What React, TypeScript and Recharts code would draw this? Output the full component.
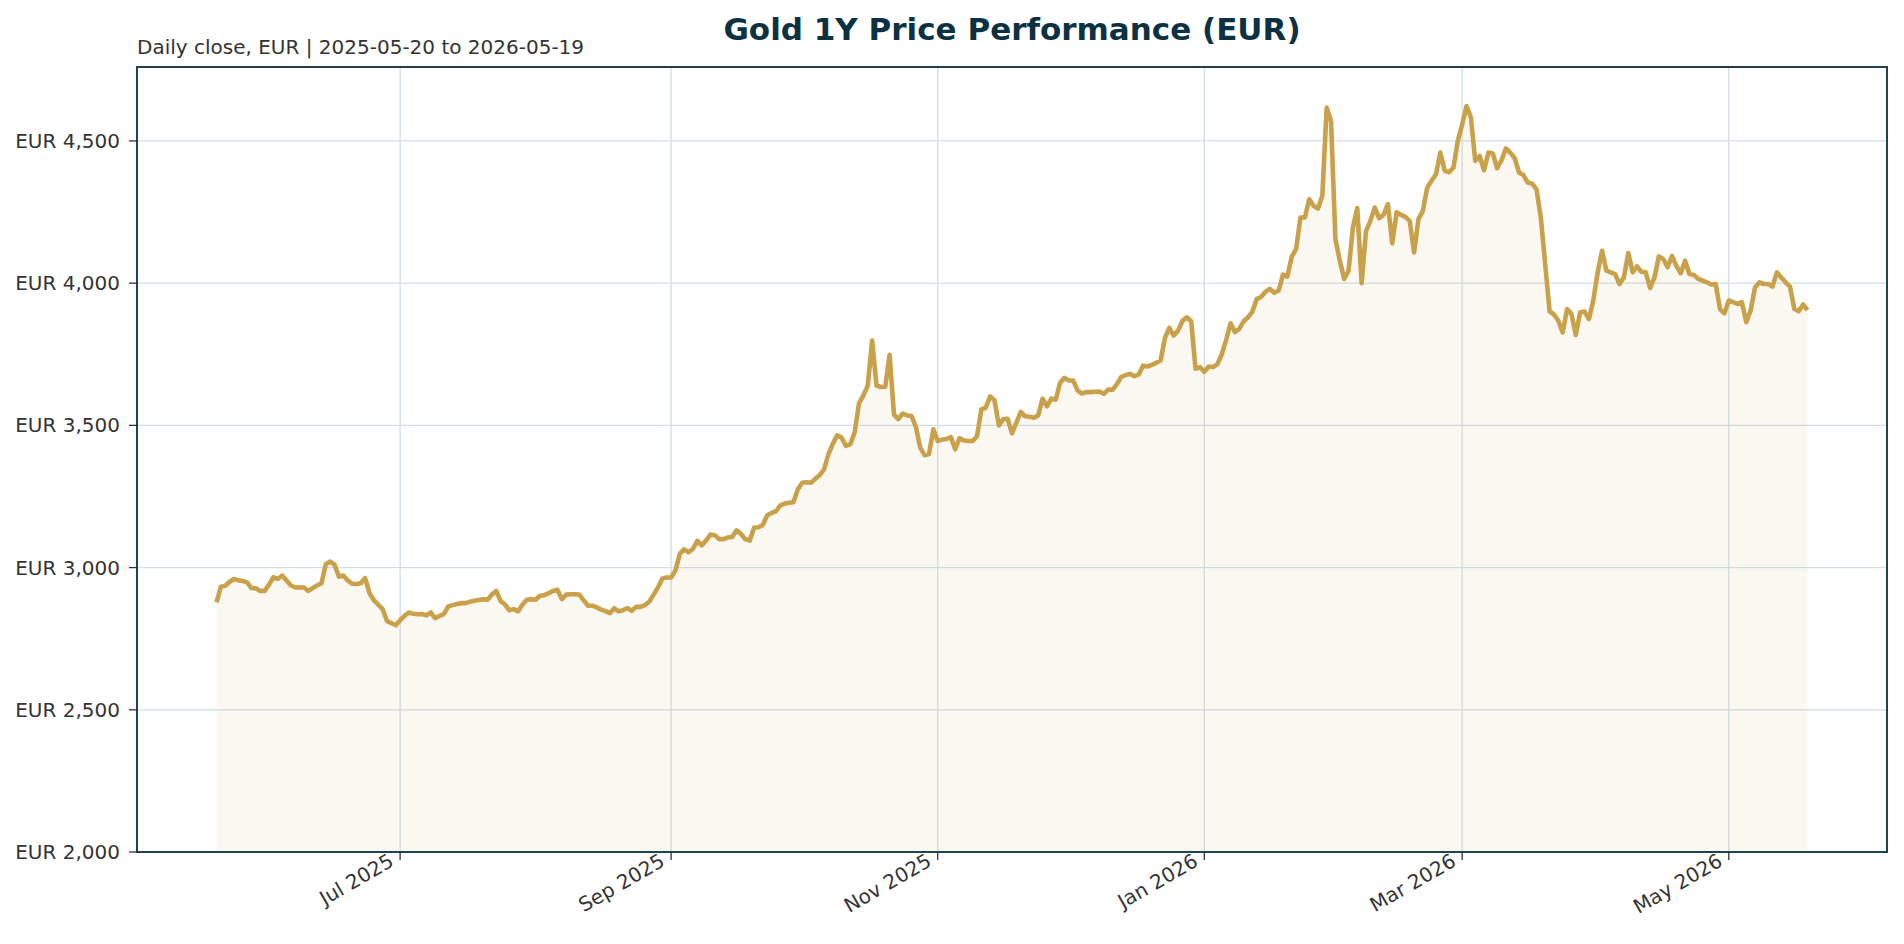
import { ComposedChart, Area, XAxis, YAxis, CartesianGrid } from 'recharts';

// Daily close, EUR per troy ounce
const MAY_2025 = [2878, 2933, 2936, 2950, 2960, 2955, 2953, 2948, 2928, 2927, 2918, 2918];
const JUN_2025 = [
  2940, 2966, 2960, 2972, 2955, 2937, 2930, 2931, 2930, 2918, 2928, 2937, 2945, 3012, 3021,
  3010, 2968, 2972, 2955, 2943, 2942, 2945, 2963, 2910, 2885, 2870, 2854, 2812, 2805, 2797,
];
const JUL_2025 = [
  2815, 2830, 2842, 2838, 2836, 2837, 2832, 2842, 2822, 2830, 2836, 2863, 2868, 2872, 2875,
  2875, 2880, 2883, 2886, 2889, 2887, 2905, 2918, 2882, 2870, 2850, 2854, 2846, 2870, 2887, 2889,
];
const AUG_2025 = [
  2887, 2901, 2903, 2910, 2918, 2922, 2889, 2905, 2906, 2906, 2905, 2885, 2866, 2866, 2860,
  2852, 2847, 2840, 2857, 2846, 2850, 2858, 2848, 2862, 2862, 2868, 2880, 2905, 2930, 2962, 2965,
];
const SEP_2025 = [
  2965, 2990, 3048, 3064, 3054, 3066, 3094, 3078, 3095, 3116, 3114, 3100, 3100, 3106, 3108,
  3131, 3118, 3100, 3095, 3141, 3142, 3150, 3184, 3192, 3198, 3219, 3225, 3228, 3230, 3275,
];
const OCT_2025 = [
  3298, 3300, 3298, 3312, 3325, 3345, 3399, 3435, 3465, 3457, 3428, 3434, 3475, 3578, 3605,
  3640, 3798, 3640, 3635, 3636, 3748, 3538, 3522, 3541, 3535, 3533, 3495, 3422, 3395, 3399, 3486,
];
const NOV_2025 = [
  3445, 3450, 3452, 3459, 3416, 3455, 3447, 3445, 3445, 3462, 3556, 3562, 3602, 3588, 3500,
  3522, 3523, 3472, 3510, 3547, 3532, 3530, 3527, 3535, 3594, 3567, 3594, 3590, 3650, 3667,
];
const DEC_2025 = [
  3658, 3658, 3623, 3612, 3617, 3617, 3618, 3619, 3611, 3626, 3625, 3645, 3670, 3677, 3681,
  3673, 3679, 3710, 3707, 3713, 3720, 3728, 3808, 3843, 3816, 3833, 3868, 3880, 3866, 3699, 3705,
];
const JAN_2026 = [
  3688, 3707, 3705, 3715, 3750, 3800, 3859, 3828, 3839, 3866, 3880, 3900, 3944, 3952, 3970,
  3980, 3966, 3974, 4030, 4023, 4093, 4120, 4231, 4231, 4295, 4272, 4262, 4307, 4617, 4570, 4155,
];
const FEB_2026 = [
  4079, 4015, 4044, 4196, 4264, 4000, 4184, 4219, 4266, 4229, 4240, 4278, 4140, 4249,
  4240, 4233, 4219, 4108, 4225, 4254, 4336, 4360, 4383, 4459, 4395, 4390, 4406, 4500,
];
const MAR_2026 = [
  4558, 4623, 4582, 4430, 4447, 4397, 4459, 4456, 4404, 4432, 4474, 4459, 4440, 4389, 4380,
  4354, 4350, 4330, 4230, 4067, 3901, 3890, 3868, 3827, 3909, 3892, 3818, 3898, 3900, 3874, 3939,
];
const APR_2026 = [
  4038, 4114, 4044, 4038, 4032, 3997, 4020, 4106, 4038, 4059, 4040, 4038, 3983, 4020, 4094,
  4085, 4056, 4096, 4061, 4035, 4079, 4032, 4029, 4015, 4009, 4003, 3995, 3997, 3909, 3894,
];
const MAY_2026 = [
  3939, 3933, 3927, 3933, 3863, 3904, 3985, 4003, 3997, 3997, 3988, 4038, 4020, 4003, 3988,
  3909, 3901, 3925, 3905,
];

const MONTHS: [string, number[]][] = [
  ['2025-05-20', MAY_2025],
  ['2025-06-01', JUN_2025],
  ['2025-07-01', JUL_2025],
  ['2025-08-01', AUG_2025],
  ['2025-09-01', SEP_2025],
  ['2025-10-01', OCT_2025],
  ['2025-11-01', NOV_2025],
  ['2025-12-01', DEC_2025],
  ['2026-01-01', JAN_2026],
  ['2026-02-01', FEB_2026],
  ['2026-03-01', MAR_2026],
  ['2026-04-01', APR_2026],
  ['2026-05-01', MAY_2026],
];

const X_TICKS = ['2025-07-01', '2025-09-01', '2025-11-01', '2026-01-01', '2026-03-01', '2026-05-01'];
const Y_TICKS = [2000, 2500, 3000, 3500, 4000, 4500];
const MONTH_NAMES = ['Jan', 'Feb', 'Mar', 'Apr', 'May', 'Jun', 'Jul', 'Aug', 'Sep', 'Oct', 'Nov', 'Dec'];

const DAY = 86400000;
const toMs = (s: string) => Date.parse(s + 'T00:00:00Z');

const data = MONTHS.flatMap(([start, values]) =>
  values.map((price, i) => ({ date: toMs(start) + i * DAY, price }))
);

const first = data[0].date;
const last = data[data.length - 1].date;
const pad = (last - first) * 0.05;

const FONT = 'DejaVu Sans, Verdana, sans-serif';
const GOLD = '#c9a14a';
const NAVY = '#0b3142';
const TEXT = '#333333';

const fmtDate = (ms: number) => {
  const d = new Date(ms);
  return `${MONTH_NAMES[d.getUTCMonth()]} ${d.getUTCFullYear()}`;
};

const XTick = (props: any) => {
  const { x, y, payload } = props;
  return (
    <text
      transform={`translate(${x - 5},${y + 3}) rotate(-30)`}
      textAnchor="end"
      fontSize={20}
      fontFamily={FONT}
      fill={TEXT}
    >
      {fmtDate(payload.value)}
    </text>
  );
};

export default function App() {
  return (
    <div style={{ position: 'absolute', left: 0, top: 0, width: 1904, height: 944, background: '#fff' }}>
      <ComposedChart
        width={1904}
        height={944}
        data={data}
        margin={{ top: 67, right: 17, bottom: 12, left: 17 }}
      >
        <CartesianGrid stroke="#cfdfe6" strokeWidth={1.3} />
        <XAxis
          dataKey="date"
          type="number"
          scale="linear"
          domain={[first - pad, last + pad]}
          allowDataOverflow
          ticks={X_TICKS.map(toMs)}
          interval={0}
          tick={<XTick />}
          tickSize={8}
          tickLine={{ stroke: TEXT, strokeWidth: 1.3 }}
          axisLine={false}
          height={80}
        />
        <YAxis
          type="number"
          domain={[2000, 4760]}
          allowDataOverflow
          ticks={Y_TICKS}
          interval={0}
          tickFormatter={(v: number) => 'EUR ' + v.toLocaleString('en-US')}
          tick={{ fill: TEXT, fontSize: 20, fontFamily: FONT }}
          tickSize={8}
          tickMargin={9}
          tickLine={{ stroke: TEXT, strokeWidth: 1.3 }}
          axisLine={false}
          width={120}
        />
        <Area
          type="linear"
          dataKey="price"
          stroke={GOLD}
          strokeWidth={4.6}
          strokeLinejoin="round"
          fill={GOLD}
          fillOpacity={0.08}
          dot={false}
          activeDot={false}
          isAnimationActive={false}
        />
      </ComposedChart>
      {/* title, subtitle and axes frame drawn over the chart */}
      <svg
        width={1904}
        height={944}
        style={{ position: 'absolute', left: 0, top: 0, pointerEvents: 'none' }}
      >
        <text x={1012} y={40} textAnchor="middle" fontSize={31} fontWeight="bold" fontFamily={FONT} fill={NAVY}>
          Gold 1Y Price Performance (EUR)
        </text>
        <text x={137} y={54} fontSize={20} fontFamily={FONT} fill={TEXT}>
          Daily close, EUR | 2025-05-20 to 2026-05-19
        </text>
        <rect x={137} y={67} width={1750} height={785} fill="none" stroke={NAVY} strokeWidth={1.8} />
      </svg>
    </div>
  );
}
